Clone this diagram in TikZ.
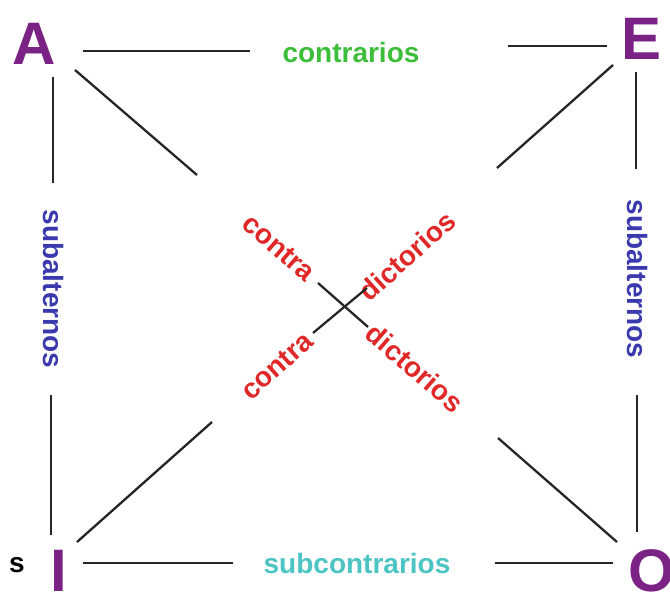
\documentclass[tikz,border=0pt]{standalone}
\usepackage{fontspec}
\setmainfont{Liberation Sans}
\definecolor{vpurple}{HTML}{7B2285}
\definecolor{cgreen}{HTML}{3DBE3A}
\definecolor{cblue}{HTML}{3A3AAE}
\definecolor{ccyan}{HTML}{4CC4C4}
\definecolor{cred}{HTML}{E02828}
\tikzset{
  letter/.style={font=\fontsize{60}{60}\selectfont\bfseries, text=vpurple, inner sep=0pt},
  lbl/.style={font=\fontsize{28}{28}\selectfont\bfseries, inner sep=0pt},
  seg/.style={line width=2.3pt, draw=black!85}
}
\begin{document}
\begin{tikzpicture}[x=1pt,y=-1pt]
\useasboundingbox (0,0) rectangle (670,596);
% corner letters
\node[letter] (A) at (34,44) {A};
\node[letter] (E) at (642,39) {E};
\node[letter] (I) at (59,571) {I};
\node[letter] (O) at (652,571) {O};
\node[lbl, text=black] (s) at (17,565) {s};
% labels
\node[lbl, text=cgreen] (contrarios) at (351,52) {contrarios};
\node[lbl, text=ccyan] (subcontrarios) at (357,563) {subcontrarios};
\node[lbl, text=cblue, rotate=-90] (subL) at (54,289) {subalternos};
\node[lbl, text=cblue, rotate=-90] (subR) at (638,279) {subalternos};
\node[lbl, text=cred, rotate=-41] (c1) at (279,248) {contra};
\node[lbl, text=cred, rotate=42] (d1) at (407,256) {dictorios};
\node[lbl, text=cred, rotate=42] (c2) at (277,366) {contra};
\node[lbl, text=cred, rotate=-41] (d2) at (415,368) {dictorios};
% segment end points
\coordinate (t1) at (83,51);   \coordinate (t2) at (250,51);
\coordinate (t3) at (508,46);  \coordinate (t4) at (607,46);
\coordinate (b1) at (83,563);  \coordinate (b2) at (233,563);
\coordinate (b3) at (495,563); \coordinate (b4) at (613,563);
\coordinate (l1) at (53,77);   \coordinate (l2) at (53,183);
\coordinate (l3) at (51,395);  \coordinate (l4) at (51,535);
\coordinate (r1) at (636,72);  \coordinate (r2) at (636,169);
\coordinate (r3) at (637,395); \coordinate (r4) at (637,532);
\coordinate (ao1) at (75,70);  \coordinate (ao2) at (197,175);
\coordinate (ao3) at (318,283); \coordinate (ao4) at (368,327);
\coordinate (ao5) at (498,438); \coordinate (ao6) at (617,542);
\coordinate (ei1) at (613,65); \coordinate (ei2) at (497,168);
\coordinate (ei3) at (367,288); \coordinate (ei4) at (313,333);
\coordinate (ei5) at (212,422); \coordinate (ei6) at (77,542);
% connectors
\draw[seg] (t1) -- (t2);
\draw[seg] (t3) -- (t4);
\draw[seg] (b1) -- (b2);
\draw[seg] (b3) -- (b4);
\draw[seg] (l1) -- (l2);
\draw[seg] (l3) -- (l4);
\draw[seg] (r1) -- (r2);
\draw[seg] (r3) -- (r4);
\draw[seg] (ao1) -- (ao2);
\draw[seg] (ao3) -- (ao4);
\draw[seg] (ao5) -- (ao6);
\draw[seg] (ei1) -- (ei2);
\draw[seg] (ei3) -- (ei4);
\draw[seg] (ei5) -- (ei6);
\end{tikzpicture}
\end{document}
